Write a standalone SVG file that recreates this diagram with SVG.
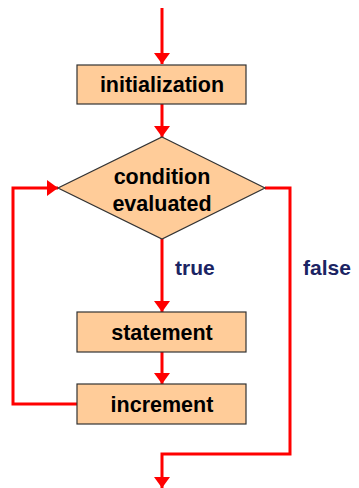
<svg xmlns="http://www.w3.org/2000/svg" width="359" height="488" viewBox="0 0 359 488">
<style>
.box{fill:#FFCC99;stroke:#333;stroke-width:1.2}
.lbl{font-family:"Liberation Sans",Arial,sans-serif;font-weight:bold;font-size:21.5px;fill:#000;text-anchor:middle}
.cond{font-family:"Liberation Sans",Arial,sans-serif;font-weight:bold;font-size:21px;fill:#1B2463}
.ln{fill:none;stroke:#FF0000;stroke-width:3}
</style>
<defs>
<marker id="ah" viewBox="0 0 11 16" refX="11" refY="8" markerWidth="11" markerHeight="16" markerUnits="userSpaceOnUse" orient="auto">
<path d="M0,0 L11,8 L0,16 Z" fill="#FF0000"/>
</marker>
</defs>
<g id="connectors">
<path class="ln" d="M162,8 V64" marker-end="url(#ah)"/>
<path class="ln" d="M162,104 V137" marker-end="url(#ah)"/>
<path class="ln" d="M162,239 V312" marker-end="url(#ah)"/>
<path class="ln" d="M162,352 V384" marker-end="url(#ah)"/>
<path class="ln" d="M77,404 H13 V188 H58" marker-end="url(#ah)"/>
<path class="ln" d="M265,188 H290 V454 H162 V488" marker-end="url(#ah)"/>
<text class="cond" x="175" y="275">true</text>
<text class="cond" x="303" y="275">false</text>
</g>
<g id="initialization">
<rect class="box" x="77" y="65" width="169" height="39"/>
<text class="lbl" x="162" y="92">initialization</text>
</g>
<g id="condition">
<polygon class="box" points="162,137 265,188 162,239 58,188"/>
<text class="lbl" x="162" y="183.5">condition</text>
<text class="lbl" x="162" y="210.5">evaluated</text>
</g>
<g id="statement">
<rect class="box" x="77" y="312" width="169" height="40"/>
<text class="lbl" x="162" y="339.5">statement</text>
</g>
<g id="increment">
<rect class="box" x="77" y="384" width="169" height="40"/>
<text class="lbl" x="162" y="411.5">increment</text>
</g>
</svg>
